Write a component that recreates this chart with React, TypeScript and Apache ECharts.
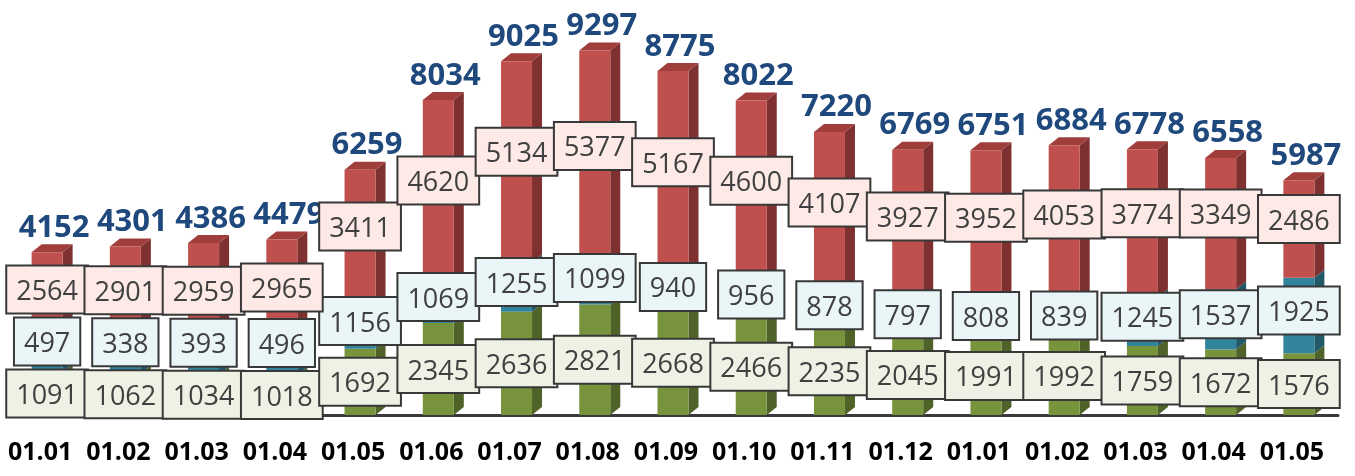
import React, { useEffect, useRef } from "react";
import * as echarts from "echarts";

const categories = ["01.01", "01.02", "01.03", "01.04", "01.05", "01.06", "01.07", "01.08", "01.09", "01.10", "01.11", "01.12", "01.01", "01.02", "01.03", "01.04", "01.05"];
const greenValues = [1091, 1062, 1034, 1018, 1692, 2345, 2636, 2821, 2668, 2466, 2235, 2045, 1991, 1992, 1759, 1672, 1576];
const tealValues = [497, 338, 393, 496, 1156, 1069, 1255, 1099, 940, 956, 878, 797, 808, 839, 1245, 1537, 1925];
const redValues = [2564, 2901, 2959, 2965, 3411, 4620, 5134, 5377, 5167, 4600, 4107, 3927, 3952, 4053, 3774, 3349, 2486];
const totals = [4152, 4301, 4386, 4479, 6259, 8034, 9025, 9297, 8775, 8022, 7220, 6769, 6751, 6884, 6778, 6558, 5987];

const BAR_W = 31;
const DX = 10;
const DY = -8;

const frontColors = ["#77933c", "#31849b", "#c0504d"];
const sideColors = ["#4f6228", "#215968", "#7e3130"];
const topColor = "#a03e3b";
const labelBg = ["#eef2e4", "#eaf5f8", "#fde9e6"];
const labelBias = [0, -5, -10];

function makeLayout(seriesIdx: number) {
  return (params: any) => {
    const i = params.dataIndex;
    const rect = params.rect;
    const vals = [greenValues[i], tealValues[i], redValues[i]];
    const k = rect.height / vals[seriesIdx];
    let below = 0;
    for (let s = 0; s < seriesIdx; s++) below += vals[s];
    const base = rect.y + rect.height + below * k;
    const H = params.labelRect.height + 2;
    let c = base - (vals[0] * k) / 2 + labelBias[0];
    let cum = vals[0];
    for (let s = 1; s <= seriesIdx; s++) {
      c = Math.min(base - (cum + vals[s] / 2) * k + labelBias[s], c - H);
      cum += vals[s];
    }
    return { x: rect.x + rect.width / 2, y: c, align: "center", verticalAlign: "middle" };
  };
}

function labelStyle(idx: number) {
  return {
    show: true,
    position: "inside",
    fontFamily: "Open Sans",
    fontSize: 27,
    lineHeight: 29,
    color: "#404040",
    backgroundColor: labelBg[idx],
    borderColor: "#383838",
    borderWidth: 2,
    padding: [9, 9, 8, 9],
  };
}

export default function App() {
  const ref = useRef<HTMLDivElement>(null);
  useEffect(() => {
    if (!ref.current) return;
    const chart = echarts.init(ref.current, null, { renderer: "svg" });
    const seriesData = [greenValues, tealValues, redValues];
    const names = ["A", "B", "C"];
    const bars = seriesData.map((d, idx) => ({
      type: "bar",
      name: names[idx],
      stack: "total",
      barWidth: BAR_W,
      z: 2,
      data: d,
      itemStyle: { color: frontColors[idx] },
      label: labelStyle(idx),
      labelLayout: makeLayout(idx),
    }));
    const customData = categories.map((_, i) => [i, greenValues[i], tealValues[i], redValues[i], totals[i]]);
    chart.setOption({
      animation: false,
      grid: { left: 8, right: 17, top: 23, bottom: 61, containLabel: false },
      xAxis: {
        type: "category",
        data: categories,
        axisTick: { show: false },
        axisLine: { lineStyle: { color: "#3a3a3a", width: 3 } },
        axisLabel: {
          fontFamily: "Open Sans",
          fontWeight: "bold",
          fontSize: 25,
          color: "#000",
          margin: 22,
          padding: [0, 14, 0, 0],
          interval: 0,
        },
      },
      yAxis: { type: "value", min: 0, max: 10000, show: false, splitLine: { show: false } },
      series: [
        ...bars,
        {
          type: "custom",
          z: 1,
          data: customData,
          encode: { x: 0, y: 4 },
          renderItem: (params: any, api: any) => {
            const i = api.value(0);
            const vals = [api.value(1), api.value(2), api.value(3)];
            const cx = api.coord([i, 0])[0];
            const x0 = cx - BAR_W / 2;
            const x1 = cx + BAR_W / 2;
            const children: any[] = [];
            let cum = 0;
            for (let s = 0; s < 3; s++) {
              const yb = api.coord([i, cum])[1];
              cum += vals[s];
              const yt = api.coord([i, cum])[1];
              children.push({
                type: "polygon",
                shape: { points: [[x1, yb], [x1 + DX, yb + DY], [x1 + DX, yt + DY], [x1, yt]] },
                style: { fill: sideColors[s] },
              });
            }
            const yTop = api.coord([i, cum])[1];
            children.push({
              type: "polygon",
              shape: { points: [[x0, yTop], [x0 + DX, yTop + DY], [x1 + DX, yTop + DY], [x1, yTop]] },
              style: { fill: topColor },
            });
            children.push({
              type: "text",
              x: cx + 7,
              y: yTop - 12,
              style: {
                text: String(api.value(4)),
                fontFamily: "Open Sans",
                fontWeight: "bold",
                fontSize: 31,
                lineHeight: 31,
                fill: "#1f497d",
                align: "center",
                verticalAlign: "bottom",
              },
            });
            return { type: "group", children };
          },
        },
      ],
    });
    return () => chart.dispose();
  }, []);
  return <div ref={ref} style={{ position: "fixed", left: 0, top: 0, width: 1355, height: 476 }} />;
}
